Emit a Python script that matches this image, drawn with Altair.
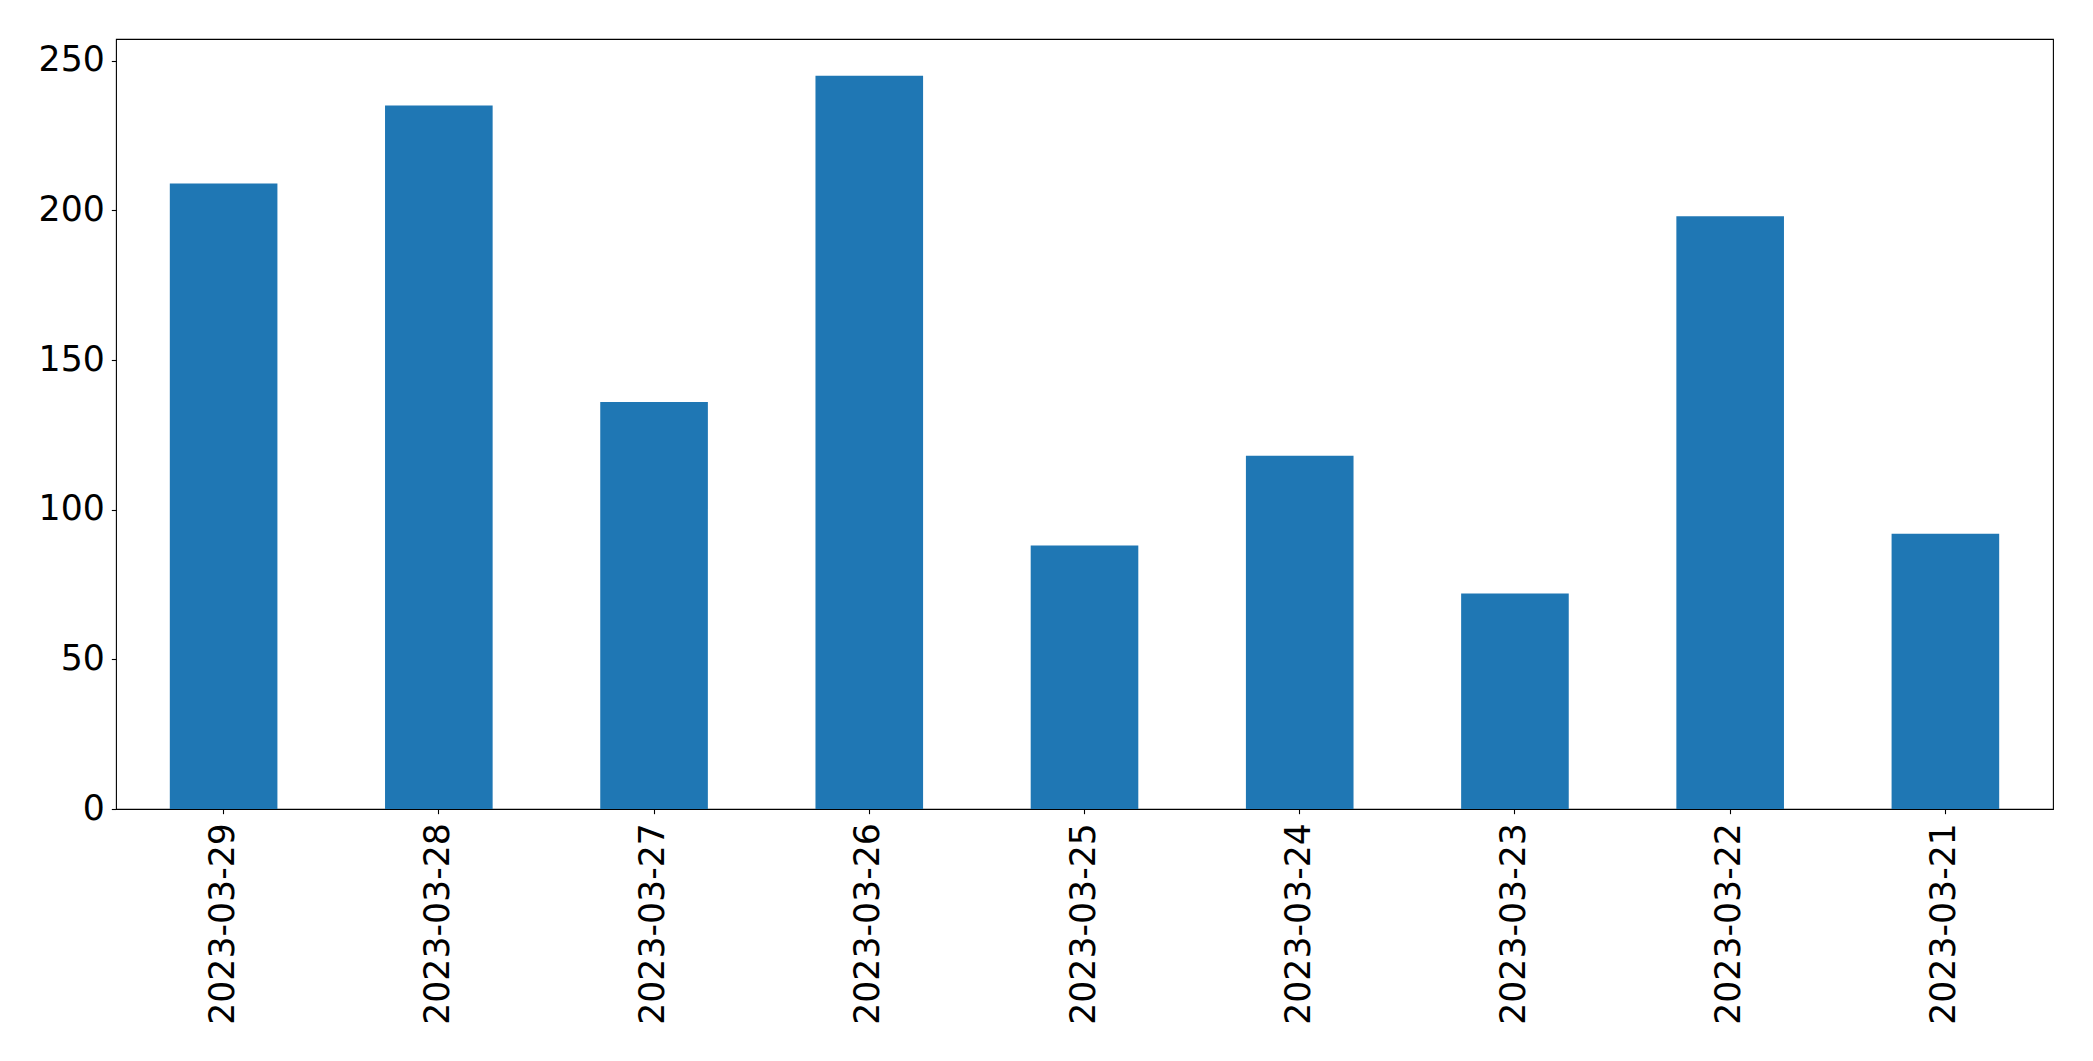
import altair as alt
import pandas as pd

dates = ["2023-03-29", "2023-03-28", "2023-03-27", "2023-03-26", "2023-03-25",
         "2023-03-24", "2023-03-23", "2023-03-22", "2023-03-21"]
values = [209, 235, 136, 245, 88, 118, 72, 198, 92]
y_ticks = [0, 50, 100, 150, 200, 250]

df = pd.DataFrame({"date": dates, "value": values})

FONT = "DejaVu Sans"
FS = 34.7

chart = alt.Chart(df).mark_bar(color="#1f77b4").encode(
    x=alt.X("date:N", sort=dates, title=None,
            scale=alt.Scale(paddingInner=0.5, paddingOuter=0.25),
            axis=alt.Axis(labelAngle=270, labelAlign="right", labelBaseline="middle",
                          labelFont=FONT, labelFontSize=FS, labelColor="black", labelLimit=0,
                          tickColor="black", tickSize=4.67, tickWidth=1.1,
                          labelPadding=9, domain=False, grid=False)),
    y=alt.Y("value:Q", title=None,
            scale=alt.Scale(domain=[0, 257.25], nice=False, zero=True),
            axis=alt.Axis(values=y_ticks, labelFont=FONT, labelFontSize=FS, labelColor="black",
                          labelLimit=0,
                          tickColor="black", tickSize=4.67, tickWidth=1.1,
                          labelPadding=7, domain=False, grid=False)),
).properties(
    width=1937, height=770,
    background="white",
    autosize=alt.AutoSizeParams(type="none"),
    padding={"left": 116, "top": 39, "right": 40, "bottom": 252},
).configure_view(stroke="black", strokeWidth=1.1)

chart.save("out.html", embed_options={"renderer": "svg", "actions": False})
